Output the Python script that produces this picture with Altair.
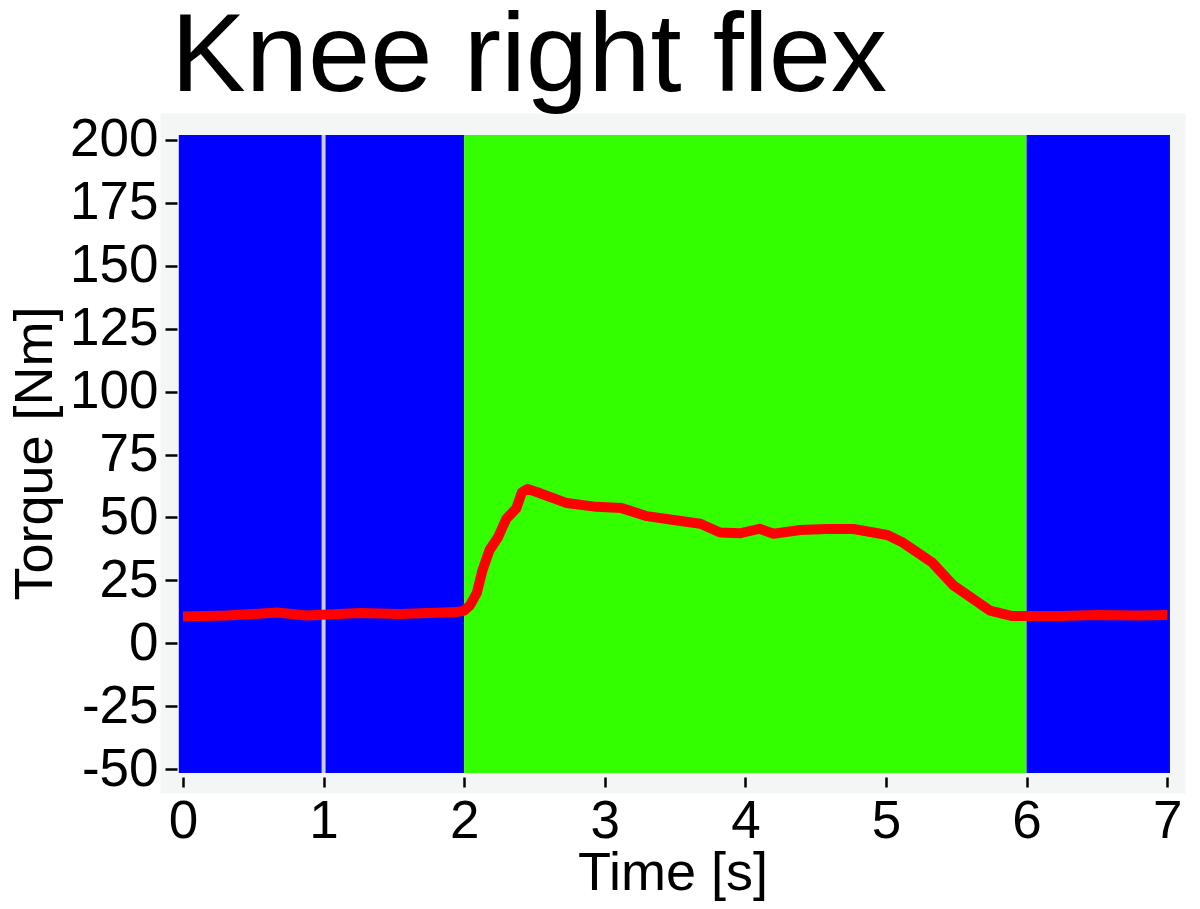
import altair as alt
import pandas as pd

# Torque curve
times = [0.0, 0.31, 0.67, 0.88, 1.26, 1.54, 1.95, 2.0, 2.04, 2.09, 2.13, 2.18, 2.24, 2.30,
         2.37, 2.41, 2.45, 2.52, 2.73, 2.94, 3.12, 3.30, 3.49, 3.68, 3.82, 3.96, 4.10,
         4.20, 4.39, 4.58, 4.77, 5.01, 5.12, 5.33, 5.48, 5.74, 5.90, 6.01, 6.24, 6.50,
         6.80, 7.0]
torque = [10.6, 11.0, 12.2, 11.0, 12.0, 11.6, 12.4, 13.0, 15.0, 20.0, 29.0, 37.0, 42.0,
          49.5, 53.5, 60.0, 61.3, 60.0, 55.7, 54.2, 53.7, 50.5, 49.0, 47.5, 44.0, 43.7,
          45.5, 43.5, 45.0, 45.4, 45.4, 43.0, 40.0, 32.0, 23.0, 13.0, 10.8, 10.8, 10.8,
          11.2, 11.0, 11.2]

# Phases (background bands)
phase_start = [-0.03, 2.0, 6.0]
phase_end = [2.0, 6.0, 7.02]
phase_name = ["rest1", "flex", "rest2"]
phase_color = ["#0000ff", "#33ff00", "#0000ff"]
band_low = -51.6
band_high = 202.0

marker_time = [1.0]

x_ticks = [0, 1, 2, 3, 4, 5, 6, 7]
y_ticks = [-50, -25, 0, 25, 50, 75, 100, 125, 150, 175, 200]

FONT = "Liberation Sans"

curve = pd.DataFrame({"t": times, "v": torque})
phases = pd.DataFrame({"start": phase_start, "end": phase_end, "name": phase_name,
                       "lo": [band_low] * 3, "hi": [band_high] * 3})
marker = pd.DataFrame({"t": marker_time, "lo": [band_low], "hi": [band_high]})

xscale = alt.Scale(domain=[-0.1636, 7.127], nice=False, zero=False)
yscale = alt.Scale(domain=[-59.5, 210.7], nice=False, zero=False)

hyphen_labels = "datum.value < 0 ? '-' + abs(datum.value) : '' + datum.value"

xaxis = alt.Axis(values=x_ticks, title="Time [s]", offset=-16, tickSize=10,
                 labelPadding=8, titlePadding=-2, labelExpr=hyphen_labels)
yaxis = alt.Axis(values=y_ticks, title="Torque [Nm]", offset=-17, tickSize=12,
                 labelPadding=7, titlePadding=7, labelExpr=hyphen_labels)

bands = alt.Chart(phases).mark_rect().encode(
    x=alt.X("start:Q", scale=xscale, axis=xaxis),
    x2="end:Q",
    y=alt.Y("lo:Q", scale=yscale, axis=yaxis),
    y2="hi:Q",
    color=alt.Color("name:N", scale=alt.Scale(domain=phase_name, range=phase_color),
                    legend=None),
)

rule = alt.Chart(marker).mark_rule(color="#c9c9e0", strokeWidth=4).encode(
    x=alt.X("t:Q", scale=xscale),
    y=alt.Y("lo:Q", scale=yscale),
    y2="hi:Q",
)

line = alt.Chart(curve).mark_line(color="#ff0000", strokeWidth=10, strokeJoin="round").encode(
    x=alt.X("t:Q", scale=xscale),
    y=alt.Y("v:Q", scale=yscale),
)

chart = alt.layer(bands, rule, line).properties(
    width=1025,
    height=680,
    autosize=alt.AutoSizeParams(type="none"),
    padding={"left": 152, "top": 105, "right": 7, "bottom": 112},
    title=alt.TitleParams("Knee right flex", anchor="start", frame="group", fontSize=112,
                          font=FONT, fontWeight="normal", color="black", dx=11, offset=-2),
).configure_view(
    fill="#f4f6f6", stroke="transparent"
).configure_axis(
    labelFont=FONT, labelFontSize=53, labelColor="black",
    titleFont=FONT, titleFontSize=54, titleFontWeight="normal", titleColor="black",
    tickColor="black", tickWidth=2.5, domain=False, grid=False, zindex=1,
)

chart.save("out.html", embed_options={"renderer": "svg", "actions": False})
